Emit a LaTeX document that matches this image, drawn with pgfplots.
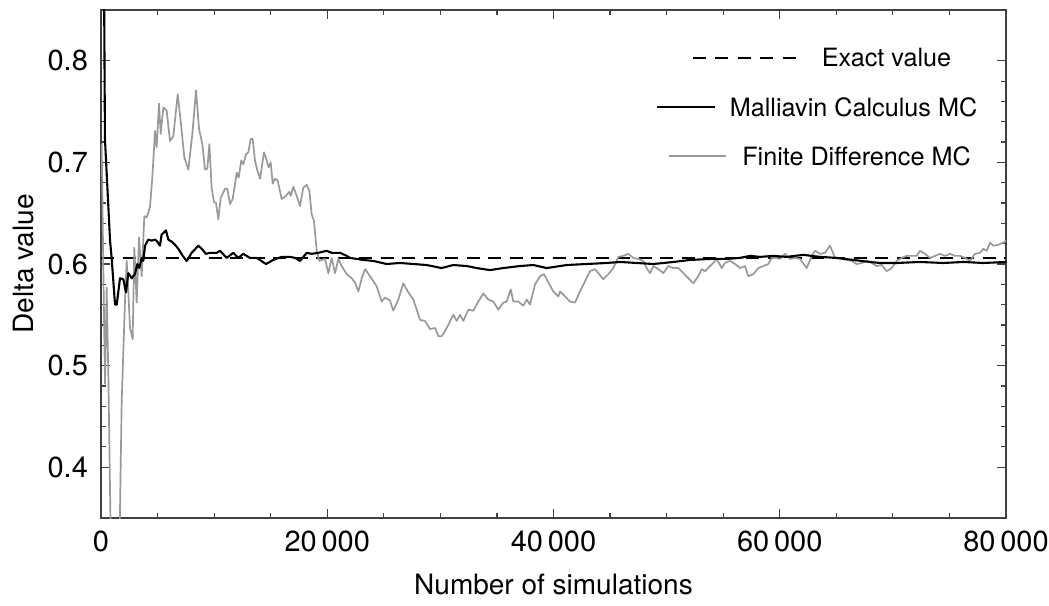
\documentclass[border=0pt]{standalone}
\usepackage{fontspec}
\setmainfont{TeX Gyre Heros}
\usepackage{pgfplots}
\pgfplotsset{compat=1.18}
\definecolor{fdgray}{rgb}{0.6,0.6,0.6}
\definecolor{axgray}{rgb}{0.25,0.25,0.25}
\newcommand{\dashseg}{\rule[4.1bp]{6.5bp}{1bp}}
\newcommand{\legfont}{\fontsize{12.6bp}{15bp}\selectfont}
\newcommand{\labfont}{\fontsize{14bp}{16.8bp}\selectfont}
\begin{document}
\fontsize{14.5bp}{17.4bp}\selectfont
\begin{tikzpicture}
\begin{axis}[
  scale only axis,
  width=452.5bp, height=254bp,
  xmin=0, xmax=80000, ymin=0.35, ymax=0.85,
  axis line style={axgray, line width=0.6bp},
  tick style={axgray, line width=0.6bp},
  tick align=inside,
  major tick length=4.5bp, minor tick length=2.5bp,
  xtick={0,20000,40000,60000,80000},
  scaled x ticks=false,
  minor x tick num=3,
  ytick={0.4,0.5,0.6,0.7,0.8},
  minor y tick num=4,
  /pgf/number format/assume math mode=true,
  xticklabel style={/pgf/number format/1000 sep={\,}, yshift=-1.2bp},
  yticklabel style={/pgf/number format/.cd, fixed, precision=1, fixed zerofill, /tikz/.cd, xshift=-1.5bp},
  xlabel={Number of simulations},
  ylabel={Delta value},
  every axis x label/.style={at={(axis description cs:0.5,-0.131)}, anchor=center, font=\labfont},
  every axis y label/.style={at={(axis description cs:-0.0851,0.5)}, anchor=center, rotate=90, font=\labfont},
  clip=true,
]
\addplot[black, line width=1bp, dash pattern=on 6.5bp off 4.25bp] coordinates {(0,0.606) (80000,0.606)};

\addplot[fdgray, line width=0.85bp, line join=round] coordinates {
(60,0.718) (200,0.60) (354,0.482) (500,0.577) (650,0.49) (900,0.30) (1000,0.25) (1500,0.25) (1600,0.30)
(1830,0.465) (2120,0.563) (2270,0.603) (2415,0.573) (2565,0.537) (2800,0.526) (2945,0.616) (3155,0.562)
(3360,0.626) (3595,0.588) (3830,0.647) (4040,0.646) (4330,0.656) (4535,0.685) (4775,0.731) (4920,0.715)
(5130,0.758) (5275,0.728) (5510,0.754) (5805,0.751) (6100,0.721) (6395,0.726) (6780,0.767) (7070,0.738)
(7365,0.705) (7720,0.693) (8075,0.728) (8400,0.771) (8665,0.733) (8960,0.718) (9195,0.693) (9400,0.694)
(9580,0.718) (9780,0.675) (9990,0.661) (10170,0.660) (10370,0.644) (10580,0.665) (10960,0.674) (11170,0.674)
(11400,0.659) (11640,0.664) (12000,0.690) (12170,0.685) (12400,0.702) (12580,0.698) (12820,0.708) (13025,0.710)
(13230,0.723) (13410,0.723) (13610,0.702) (13820,0.692) (14060,0.684) (14410,0.710) (14650,0.702) (14820,0.695)
(15000,0.700) (15180,0.679) (15380,0.684) (15620,0.682) (15970,0.664) (16350,0.667) (16650,0.671) (16770,0.667)
(17000,0.676) (17300,0.667) (17590,0.657) (17880,0.675) (18180,0.678) (18420,0.672) (18620,0.649) (18830,0.642)
(19070,0.613) (19300,0.603) (19800,0.605) (20100,0.591) (20390,0.606) (20690,0.591) (20980,0.605) (21280,0.598)
(21720,0.590) (22160,0.586) (22450,0.582) (22750,0.573) (23050,0.586) (23340,0.595) (23780,0.588) (24370,0.578)
(24810,0.563) (25110,0.567) (25550,0.564) (25840,0.554) (26280,0.565) (26720,0.581) (27170,0.572) (27610,0.565)
(27910,0.555) (28200,0.545) (28640,0.544) (29080,0.536) (29530,0.537) (29820,0.529) (30120,0.529) (30410,0.534)
(30700,0.540) (31150,0.550) (31440,0.544) (31740,0.550) (32030,0.544) (32470,0.555) (32910,0.554) (33350,0.563)
(33800,0.571) (34240,0.565) (34680,0.563) (35120,0.555) (35560,0.562) (35860,0.563) (36220,0.575) (36450,0.563)
(36890,0.563) (37330,0.559) (37630,0.565) (37920,0.560) (38370,0.580) (38810,0.588) (39160,0.590) (39540,0.582)
(39980,0.573) (40430,0.568) (40580,0.573) (41020,0.568) (41460,0.563) (41900,0.562) (42340,0.573) (42790,0.583)
(43230,0.593) (43670,0.595) (43960,0.591) (44400,0.585) (44850,0.590) (45290,0.596) (45730,0.607) (46170,0.608)
(46610,0.610) (47060,0.606) (47500,0.605) (47940,0.603) (48240,0.596) (48530,0.591) (48830,0.598) (49270,0.595)
(49710,0.591) (50150,0.598) (50590,0.596) (51030,0.596) (51480,0.591) (51920,0.586) (52360,0.581) (52800,0.588)
(53100,0.595) (53390,0.593) (53840,0.598) (54130,0.601) (54430,0.605) (54870,0.596) (55160,0.601) (55600,0.603)
(56050,0.600) (56490,0.596) (56930,0.598) (57220,0.588) (57660,0.590) (58100,0.596) (58550,0.598) (58990,0.600)
(59290,0.606) (59730,0.606) (60020,0.605) (60470,0.610) (60910,0.605) (61350,0.606) (61790,0.605) (62380,0.596)
(62830,0.608) (63120,0.613) (63560,0.610) (64000,0.611) (64440,0.618) (64890,0.606) (65480,0.605) (65920,0.604)
(66360,0.603) (66800,0.600) (67250,0.601) (67690,0.603) (68130,0.601) (68570,0.598) (69010,0.599) (69450,0.593)
(69900,0.596) (70340,0.603) (70780,0.606) (71220,0.608) (71670,0.608) (72110,0.608) (72400,0.613) (72840,0.610)
(73280,0.606) (73730,0.608) (74170,0.610) (74610,0.608) (75050,0.610) (75490,0.608) (75940,0.608) (76380,0.606)
(76820,0.603) (77260,0.610) (77700,0.611) (78000,0.615) (78290,0.613) (78590,0.621) (78880,0.618) (79320,0.619)
(79760,0.621) (80000,0.623)
};

\addplot[black, line width=1.05bp, line join=round] coordinates {
(100,1.2) (350,0.723) (800,0.623) (940,0.606) (1240,0.560) (1390,0.560) (1680,0.586) (1975,0.585)
(2210,0.572) (2415,0.591) (2710,0.586) (3005,0.590) (3210,0.600) (3390,0.596) (3595,0.606) (3740,0.603)
(3890,0.618) (4180,0.624) (4480,0.623) (4775,0.624) (4980,0.622) (5215,0.618) (5360,0.629) (5745,0.633)
(5950,0.624) (6250,0.622) (6540,0.619) (6835,0.615) (7220,0.608) (7575,0.603) (8015,0.611) (8605,0.618)
(8900,0.615) (9280,0.610) (9635,0.611) (10225,0.611) (10520,0.613) (11110,0.606) (11700,0.611) (12140,0.606)
(12580,0.610) (13170,0.606) (13765,0.606) (14590,0.600) (15230,0.604) (15970,0.607) (16710,0.607) (17150,0.606)
(17590,0.603) (18180,0.611) (18620,0.610) (19210,0.611) (19950,0.613) (20390,0.611) (21130,0.611) (21720,0.608)
(22010,0.606) (23190,0.604) (24070,0.603) (25250,0.600) (26430,0.601) (27610,0.600) (28790,0.599) (30110,0.596)
(31140,0.599) (32320,0.598) (33210,0.596) (34390,0.594) (35560,0.596) (37040,0.598) (38220,0.599) (39400,0.596)
(41170,0.599) (42940,0.600) (44700,0.601) (45880,0.602) (47360,0.601) (48830,0.600) (50600,0.602) (52070,0.604)
(53840,0.605) (55310,0.605) (56490,0.606) (57370,0.608) (58260,0.607) (59430,0.608) (60610,0.607) (62080,0.609)
(63560,0.607) (65040,0.606) (66500,0.604) (67980,0.602) (68860,0.601) (70340,0.601) (72400,0.602) (74460,0.601)
(76230,0.602) (78000,0.601) (80000,0.602)
};

\node[anchor=center, inner sep=0pt, font=\legfont] at (axis description cs:0.7967,0.9055)
  {\dashseg\hspace{4.75bp}\dashseg\hspace{4.75bp}\dashseg\hspace{4.75bp}\dashseg\hspace{4.75bp}\dashseg\hspace{13bp}Exact value};
\node[anchor=center, inner sep=0pt, font=\legfont] at (axis description cs:0.7912,0.8091)
  {\rule[4.1bp]{29bp}{1bp}\hspace{7.5bp}Malliavin Calculus MC};
\node[anchor=center, inner sep=0pt, font=\legfont] at (axis description cs:0.7945,0.7126)
  {\textcolor{fdgray}{\rule[4.2bp]{28.5bp}{0.8bp}}\hspace{8bp}Finite Difference MC};

\coordinate (SW) at (rel axis cs:0,0);
\coordinate (NE) at (rel axis cs:1,1);
\end{axis}
\pgfresetboundingbox
\path ([shift={(-50.5bp,-43.5bp)}]SW) rectangle ([shift={(21.5bp,5bp)}]NE);
\end{tikzpicture}
\end{document}
